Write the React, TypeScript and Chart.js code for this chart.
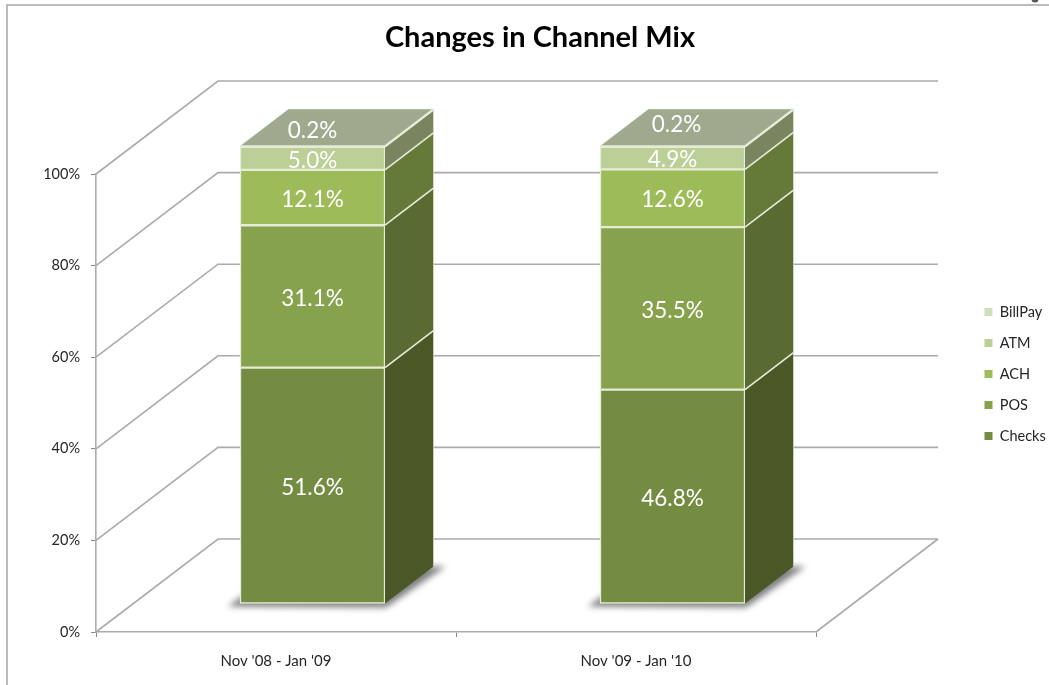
import React, { useEffect, useRef } from "react";
import { Chart, registerables } from "chart.js";

Chart.register(...registerables);

const periods = ["Nov '08 - Jan '09", "Nov '09 - Jan '10"];
const seriesNames = ["Checks", "POS", "ACH", "ATM", "BillPay"];
const checks = [51.6, 46.8];
const pos = [31.1, 35.5];
const ach = [12.1, 12.6];
const atm = [5.0, 4.9];
const billPay = [0.2, 0.2];
const seriesValues = [checks, pos, ach, atm, billPay];

const frontColors = ["#738C41", "#87A24C", "#9EBB5A", "#BBCF97", "#CFDFBE"];
const sideColors = ["#4A5827", "#5A6A33", "#657A39", "#7A845F", "#7A845F"];
const topColor = "#9EA98D";
const edgeColor = "#E6ECD8";
const wallColor = "#ABABAB";

// Perspective offsets of the pseudo-3D box, in canvas pixels.
const WALL_DX = 122;
const WALL_DY = -93;
const BAR_SHIFT_X = 36.5;
const BAR_SHIFT_Y = -28;
const BAR_DX = 48.5;
const BAR_DY = -37;
// Offset of the thin top series' label on the lid of each column.
const lidLabelOffset = [
  { dx: 0, dy: -18 },
  { dx: 4, dy: -24 },
];

const fmt = (v: number) => `${v.toFixed(1)}%`;

const box3d = {
  id: "box3d",
  beforeLayout(chart: any) {
    const legend = chart.legend;
    if (legend && !legend.__fixed) {
      const fit = legend.fit;
      legend.fit = function () {
        fit.call(this);
        this.width = 233;
      };
      legend.__fixed = true;
    }
  },
  afterLayout(chart: any) {
    const legend = chart.legend;
    const w = 80;
    legend.left = 968;
    legend.right = 968 + w;
    legend.top = 288.25;
    legend.bottom = 288.25 + 180;
    chart.titleBlock.left = 32;
    chart.titleBlock.right = 1048;
  },
  beforeDraw(chart: any) {
    const { ctx, width, height } = chart;
    ctx.save();
    ctx.strokeStyle = "#A6A6A6";
    ctx.lineWidth = 1.5;
    ctx.beginPath();
    ctx.moveTo(7, height);
    ctx.lineTo(7, 5);
    ctx.lineTo(width, 5);
    ctx.stroke();
    ctx.fillStyle = "#555";
    ctx.beginPath();
    ctx.arc(1035, -1, 3.5, 0, Math.PI * 2);
    ctx.fill();
    ctx.restore();
  },
  beforeDatasetsDraw(chart: any) {
    const { ctx, chartArea, scales } = chart;
    const { left, right } = chartArea;
    ctx.save();
    ctx.strokeStyle = wallColor;
    ctx.lineWidth = 1.6;
    for (const tick of scales.y.ticks) {
      const y = scales.y.getPixelForValue(tick.value);
      ctx.beginPath();
      ctx.moveTo(left, y);
      ctx.lineTo(left + WALL_DX, y + WALL_DY);
      ctx.lineTo(right + WALL_DX, y + WALL_DY);
      ctx.stroke();
    }
    const floorY = scales.y.getPixelForValue(0);
    ctx.beginPath();
    ctx.moveTo(right, floorY);
    ctx.lineTo(right + WALL_DX, floorY + WALL_DY);
    ctx.stroke();
    ctx.restore();

    // The bars and their faces are drawn shifted into the middle of the floor.
    ctx.save();
    ctx.translate(BAR_SHIFT_X, BAR_SHIFT_Y);

    // Soft cast shadow along the foot of each column.
    ctx.save();
    ctx.filter = "blur(3px)";
    ctx.fillStyle = "#7F7F7F";
    for (const bar of chart.getDatasetMeta(0).data) {
      const l = bar.x - bar.width / 2;
      const r = bar.x + bar.width / 2;
      ctx.beginPath();
      ctx.moveTo(l - 12, bar.base + 3);
      ctx.lineTo(r + 1, bar.base + 4);
      ctx.lineTo(r + BAR_DX + 12, bar.base + BAR_DY);
      ctx.lineTo(r, bar.base + BAR_DY);
      ctx.lineTo(l, bar.base - 6);
      ctx.closePath();
      ctx.fill();
    }
    ctx.restore();
  },
  afterDatasetsDraw(chart: any) {
    const { ctx } = chart;
    const count = seriesNames.length;

    for (let s = 0; s < count; s++) {
      chart.getDatasetMeta(s).data.forEach((bar: any) => {
        const r = bar.x + bar.width / 2;
        ctx.beginPath();
        ctx.moveTo(r, bar.base);
        ctx.lineTo(r + BAR_DX, bar.base + BAR_DY);
        ctx.lineTo(r + BAR_DX, bar.y + BAR_DY);
        ctx.lineTo(r, bar.y);
        ctx.closePath();
        ctx.fillStyle = sideColors[s];
        ctx.fill();
      });
    }
    // Edges between the stacked segments on the side face.
    ctx.strokeStyle = edgeColor;
    ctx.lineWidth = 1.6;
    for (let s = 0; s < count; s++) {
      chart.getDatasetMeta(s).data.forEach((bar: any) => {
        const r = bar.x + bar.width / 2;
        ctx.beginPath();
        ctx.moveTo(r, bar.y);
        ctx.lineTo(r + BAR_DX, bar.y + BAR_DY);
        ctx.stroke();
      });
    }
    chart.getDatasetMeta(count - 1).data.forEach((bar: any) => {
      const l = bar.x - bar.width / 2;
      const r = bar.x + bar.width / 2;
      const bottom = chart.getDatasetMeta(0).data[0].base;
      ctx.beginPath();
      ctx.moveTo(l, bar.y);
      ctx.lineTo(r, bar.y);
      ctx.lineTo(r + BAR_DX, bar.y + BAR_DY);
      ctx.lineTo(l + BAR_DX, bar.y + BAR_DY);
      ctx.closePath();
      ctx.fillStyle = topColor;
      ctx.fill();
      ctx.lineWidth = 1.6;
      ctx.strokeStyle = edgeColor;
      ctx.beginPath();
      ctx.moveTo(l, bar.y);
      ctx.lineTo(r, bar.y);
      ctx.lineTo(r + BAR_DX, bar.y + BAR_DY);
      ctx.stroke();
      // Faint outer outline of the lid and the back corner of the side face.
      ctx.lineWidth = 1;
      ctx.strokeStyle = "rgba(230,236,216,0.6)";
      ctx.beginPath();
      ctx.moveTo(l, bar.y);
      ctx.lineTo(l + BAR_DX, bar.y + BAR_DY);
      ctx.lineTo(r + BAR_DX, bar.y + BAR_DY);
      ctx.lineTo(r + BAR_DX, bottom + BAR_DY);
      ctx.stroke();
    });

    // Value labels, centred on each segment's front face.
    ctx.font = "22.5px Lato";
    ctx.fillStyle = "#FFFFFF";
    ctx.textAlign = "center";
    ctx.textBaseline = "middle";
    for (let s = 0; s < count; s++) {
      chart.getDatasetMeta(s).data.forEach((bar: any, i: number) => {
        const value = seriesValues[s][i];
        const isLid = s === count - 1;
        const x = bar.x + (isLid ? lidLabelOffset[i].dx : 0);
        const y = (bar.y + bar.base) / 2 + 2 + (isLid ? lidLabelOffset[i].dy : 0);
        ctx.fillText(fmt(value), x, y);
      });
    }
    ctx.restore();
  },
};

export default function App() {
  const ref = useRef<HTMLCanvasElement>(null);

  useEffect(() => {
    const chart = new Chart(ref.current!, {
      type: "bar",
      plugins: [box3d],
      data: {
        labels: periods,
        datasets: seriesNames.map((name, s) => ({
          label: name,
          data: seriesValues[s],
          backgroundColor: frontColors[s],
          borderColor: edgeColor,
          borderWidth: 1.5,
          borderSkipped: false,
          barThickness: 145,
          clip: false,
        })),
      },
      options: {
        responsive: false,
        animation: false,
        events: [],
        layout: { padding: 0 },
        plugins: {
          title: {
            display: true,
            text: "Changes in Channel Mix",
            color: "#000000",
            font: { family: "Lato", size: 29, weight: "bold", lineHeight: 1.2 },
            padding: { top: 20, bottom: 119.2 },
          },
          legend: {
            display: true,
            position: "right",
            align: "start",
            reverse: true,
            labels: {
              boxWidth: 8,
              boxHeight: 8,
              padding: 16.5,
              color: "#262626",
              font: { family: "Lato", size: 14.5 },
              generateLabels: (c: any) =>
                Chart.defaults.plugins.legend.labels
                  .generateLabels(c)
                  .map((item: any) => ({ ...item, lineWidth: 0 })),
            },
          },
          tooltip: { enabled: false },
        },
        scales: {
          x: {
            stacked: true,
            border: { color: wallColor, width: 1.6 },
            grid: { drawOnChartArea: false, drawTicks: true, tickLength: 5, color: "#888888" },
            ticks: {
              color: "#262626",
              font: { family: "Lato", size: 15 },
              padding: 15,
              maxRotation: 0,
            },
            afterFit: (axis: any) => {
              axis.height = 53;
            },
          },
          y: {
            stacked: true,
            min: 0,
            max: 100,
            border: { color: wallColor, width: 1.6 },
            grid: { drawOnChartArea: false, drawTicks: true, tickLength: 5, color: "#888888" },
            ticks: {
              stepSize: 20,
              color: "#262626",
              font: { family: "Lato", size: 14.5 },
              padding: 11,
              callback: (v: any) => `${v}%`,
            },
            afterFit: (axis: any) => {
              axis.width = 96;
            },
          },
        },
      },
    } as any);
    return () => chart.destroy();
  }, []);

  return (
    <div style={{ position: "fixed", left: 0, top: 0, width: 1049, height: 685, background: "#FFFFFF" }}>
      <canvas ref={ref} width={1049} height={685} style={{ display: "block" }} />
    </div>
  );
}
